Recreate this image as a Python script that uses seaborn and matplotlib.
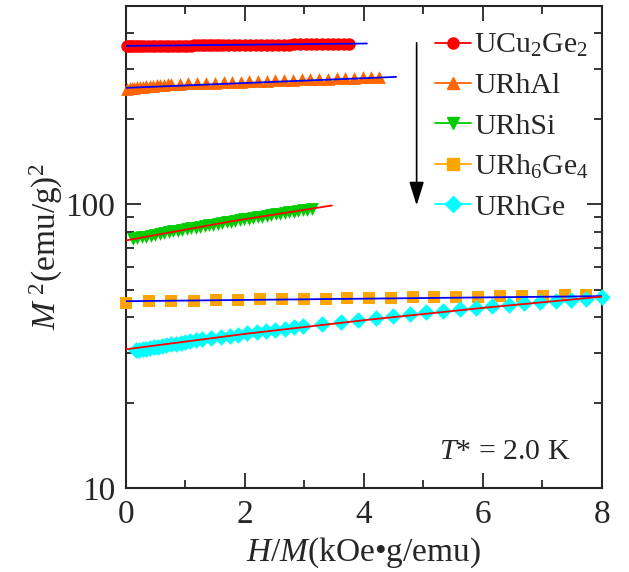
import pandas as pd
import seaborn as sns
import matplotlib.pyplot as plt
from matplotlib.lines import Line2D
from matplotlib.ticker import FixedLocator, NullFormatter

# ---- data ----
ucu_x = [0.02, 0.05, 0.08, 0.12, 0.16, 0.21, 0.26, 0.31, 0.37, 0.43, 0.49, 0.55, 0.61,
         0.67, 0.73, 0.79, 0.85, 0.91, 0.97, 1.03, 1.09, 1.15, 1.21, 1.27, 1.33, 1.39,
         1.45, 1.51, 1.57, 1.63, 1.72, 1.81, 1.90, 2.00, 2.09, 2.18, 2.27, 2.37, 2.46,
         2.55, 2.65, 2.74, 2.83, 2.92, 3.02, 3.11, 3.20, 3.30, 3.39, 3.48, 3.57, 3.66, 3.75]
ucu_y = [360.0, 360.1, 360.1, 360.2, 360.3, 360.4, 360.5, 360.6, 360.7, 360.8, 360.9,
         361.0, 361.1, 361.2, 361.3, 361.4, 361.5, 361.6, 361.7, 361.9, 362.0, 362.1,
         362.2, 362.3, 362.4, 362.5, 362.6, 362.7, 362.8, 362.9, 363.1, 363.3, 363.4,
         363.6, 363.8, 363.9, 364.1, 364.3, 364.4, 364.6, 364.8, 364.9, 365.1, 365.3,
         365.4, 365.6, 365.8, 365.9, 366.1, 366.3, 366.4, 366.6, 366.8]
ucu_fit_x = [0.0, 4.05]
ucu_fit_y = [360.9, 368.0]

rhal_x = [0.02, 0.06, 0.10, 0.14, 0.19, 0.24, 0.29, 0.34, 0.40, 0.46, 0.52, 0.58, 0.64,
          0.70, 0.76, 0.90, 1.05, 1.20, 1.34, 1.49, 1.64, 1.78, 1.93, 2.07, 2.22, 2.37,
          2.51, 2.66, 2.81, 2.95, 3.10, 3.24, 3.39, 3.54, 3.68, 3.83, 3.98, 4.12, 4.25]
rhal_y = [255.0, 255.6, 256.3, 257.0, 257.8, 258.6, 259.3, 260.0, 260.8, 261.6, 262.4,
          263.1, 263.8, 264.4, 264.8, 265.5, 266.1, 266.8, 267.4, 268.1, 268.8, 269.5,
          270.2, 270.8, 271.5, 272.2, 272.9, 273.6, 274.3, 274.9, 275.6, 276.2, 276.9,
          277.6, 278.3, 279.0, 279.7, 280.5, 281.2]
rhal_fit_x = [0.0, 4.54]
rhal_fit_y = [256.8, 280.7]

rhsi_x = [0.12, 0.19, 0.27, 0.34, 0.42, 0.49, 0.57, 0.64, 0.72, 0.79, 0.87, 0.94, 1.02,
          1.09, 1.17, 1.24, 1.32, 1.39, 1.47, 1.54, 1.62, 1.69, 1.77, 1.84, 1.92, 1.99,
          2.07, 2.14, 2.22, 2.29, 2.37, 2.44, 2.52, 2.59, 2.67, 2.74, 2.82, 2.89, 2.97,
          3.04, 3.12]
rhsi_y = [75.4, 75.9, 76.5, 76.9, 77.5, 78.0, 78.5, 79.0, 79.6, 80.1, 80.6, 81.1, 81.6,
          82.1, 82.7, 83.2, 83.7, 84.2, 84.7, 85.2, 85.8, 86.3, 86.8, 87.3, 87.8, 88.3,
          88.9, 89.4, 89.9, 90.4, 90.9, 91.4, 92.0, 92.5, 93.0, 93.5, 94.1, 94.5, 95.1,
          95.6, 96.1]
rhsi_fit_x = [0.0, 1.73, 3.46]
rhsi_fit_y = [74.5, 86.7, 98.9]

rh6_x = [0.0, 0.38, 0.76, 1.14, 1.51, 1.88, 2.25, 2.62, 2.99, 3.36, 3.72, 4.08, 4.45,
         4.82, 5.18, 5.55, 5.92, 6.29, 6.65, 7.01, 7.38, 7.74]
rh6_y = [45.0, 45.4, 45.6, 45.7, 45.8, 46.0, 46.2, 46.2, 46.4, 46.4, 46.6, 46.7, 46.8,
         46.9, 46.9, 47.1, 47.2, 47.3, 47.4, 47.4, 47.7, 47.7]
rh6_fit_x = [0.0, 8.0]
rh6_fit_y = [45.5, 47.4]

rhge_x = [0.17, 0.22, 0.28, 0.34, 0.40, 0.47, 0.54, 0.61, 0.68, 0.76, 0.84, 0.92, 1.00,
          1.08, 1.17, 1.27, 1.43, 1.59, 1.74, 1.89, 2.04, 2.20, 2.35, 2.50, 2.67, 2.82,
          2.98, 3.30, 3.61, 3.90, 4.20, 4.49, 4.77, 5.05, 5.33, 5.61, 5.88, 6.16, 6.43,
          6.69, 6.96, 7.23, 7.48, 7.74, 8.00]
rhge_y = [30.6, 30.7, 30.8, 31.0, 31.1, 31.3, 31.5, 31.6, 31.8, 32.1, 32.2, 32.4, 32.6,
          32.9, 33.1, 33.4, 33.7, 34.1, 34.4, 34.7, 35.1, 35.4, 35.7, 36.1, 36.4, 36.8,
          37.1, 37.8, 38.5, 39.1, 39.8, 40.4, 41.0, 41.6, 42.1, 42.7, 43.2, 43.7, 44.2,
          44.7, 45.1, 45.6, 46.0, 46.5, 47.0]
rhge_fit_x = [0.0, 2.0, 4.0, 6.0, 8.0]
rhge_fit_y = [30.8, 34.9, 39.0, 43.1, 47.2]

labels = ["UCu$_2$Ge$_2$", "URhAl", "URhSi", "URh$_6$Ge$_4$", "URhGe"]
colors = ["#ff0000", "#ff6600", "#00cc00", "#ffa500", "#00ffff"]
markers = ["o", "^", "v", "s", "D"]
sizes = [80, 85, 85, 64, 72]
fit_colors = ["#0000ff", "#0000ff", "#ff0000", "#0000ff", "#ff0000"]

sns.set_style("ticks")
plt.rcParams["font.family"] = ["Liberation Serif", "DejaVu Serif"]
plt.rcParams["mathtext.fontset"] = "custom"
plt.rcParams["mathtext.rm"] = "Liberation Serif"
plt.rcParams["mathtext.it"] = "Liberation Serif:italic"
plt.rcParams["axes.linewidth"] = 1.5

fig = plt.figure(figsize=(6.29, 5.72), dpi=100)
ax = fig.add_axes([0.2003, 0.1469, 0.7567, 0.8431])

series = [
    (ucu_x, ucu_y, ucu_fit_x, ucu_fit_y),
    (rhal_x, rhal_y, rhal_fit_x, rhal_fit_y),
    (rhsi_x, rhsi_y, rhsi_fit_x, rhsi_fit_y),
    (rh6_x, rh6_y, rh6_fit_x, rh6_fit_y),
    (rhge_x, rhge_y, rhge_fit_x, rhge_fit_y),
]

for (x, y, fx, fy), col, mk, sz in zip(series, colors, markers, sizes):
    df = pd.DataFrame({"x": x, "y": y})
    sns.scatterplot(data=df, x="x", y="y", color=col, marker=mk, s=sz,
                    linewidth=0, ax=ax, clip_on=False, zorder=3)

for (x, y, fx, fy), fc in zip(series, fit_colors):
    fdf = pd.DataFrame({"x": fx, "y": fy})
    sns.lineplot(data=fdf, x="x", y="y", color=fc, lw=1.3, ax=ax,
                 zorder=4, estimator=None, sort=False)

ax.set_yscale("log")
ax.set_xlim(0, 8)
ax.set_ylim(10, 500)
ax.set_xticks([0, 2, 4, 6, 8])
ax.xaxis.set_minor_locator(FixedLocator([1, 3, 5, 7]))
ax.set_yticks([10, 100])
ax.set_yticklabels(["10", "100"])
ax.yaxis.set_minor_locator(FixedLocator([20, 30, 40, 50, 60, 70, 80, 90,
                                         200, 300, 400]))
ax.yaxis.set_minor_formatter(NullFormatter())

ax.tick_params(which="both", direction="in", top=True, right=True,
               labelsize=24, width=1.3)
ax.tick_params(which="major", length=11, pad=8)
ax.tick_params(which="minor", length=6)
for s in ax.spines.values():
    s.set_visible(True)
    s.set_linewidth(1.5)

ax.set_xlabel("$H/M$(kOe\u2022g/emu)", fontsize=24, labelpad=4)
ax.set_ylabel("$M^{\\ 2}$(emu/g)$^2$", fontsize=24, labelpad=0)

ax.annotate("", xy=(4.885, 99), xytext=(4.885, 370),
            arrowprops=dict(arrowstyle="-|>,head_length=0.8,head_width=0.25",
                            color="k", lw=1.2, mutation_scale=18,
                            shrinkA=0, shrinkB=0))

ax.text(0.933, 0.075, "$T$* = 2.0 K", transform=ax.transAxes,
        ha="right", va="center", fontsize=21.5)

handles = [Line2D([], [], color=c, marker=m, markersize=8, lw=1.3)
           for c, m in zip(colors, markers)]
ax.legend(handles, labels, loc="upper left", bbox_to_anchor=(0.65, 0.945),
          frameon=False, fontsize=21.5, handlelength=1.2, handletextpad=0.1,
          labelspacing=0.44, borderaxespad=0, borderpad=0)

fig.savefig("out.png", dpi=100)
